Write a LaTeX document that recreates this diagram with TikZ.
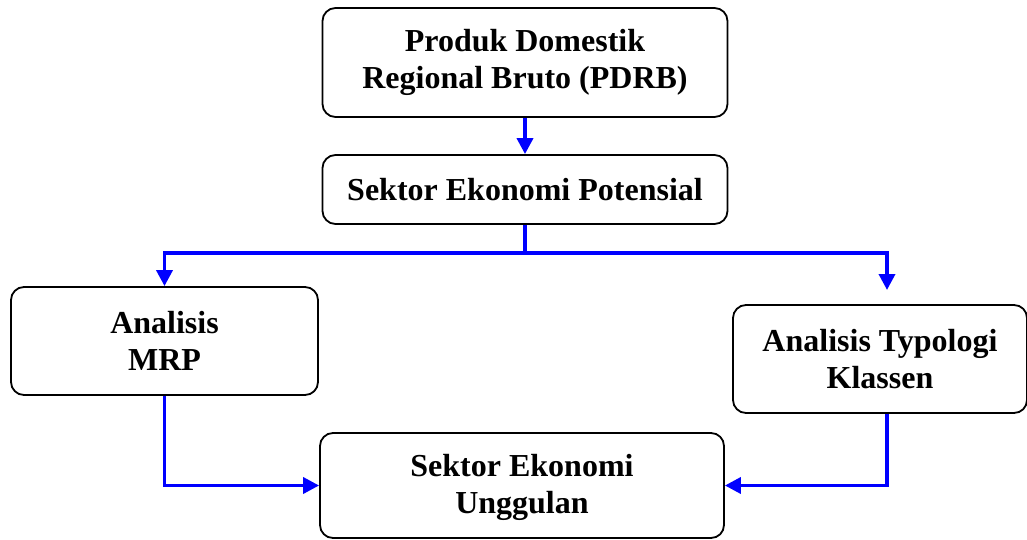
\documentclass[tikz,border=0pt]{standalone}
\usepackage{fontspec}
\setmainfont{Liberation Serif}
\usetikzlibrary{arrows.meta}
\begin{document}
\begin{tikzpicture}[x=1pt,y=-1pt,
  box/.style={draw=black, line width=1.8pt, rounded corners=13pt, align=center,
    font=\fontsize{32}{37}\selectfont\bfseries, inner sep=0pt},
  link/.style={draw={rgb,255:red,0;green,0;blue,255}, line width=3.6pt,
    -{Triangle[length=16pt,width=16pt]}},
  line/.style={draw={rgb,255:red,0;green,0;blue,255}, line width=3.6pt}]
\useasboundingbox (0,0) rectangle (1027,540);
\node[box, minimum width=405pt, minimum height=109pt] (pdrb) at (525,62.5)
  {Produk Domestik\\Regional Bruto (PDRB)};
\node[box, minimum width=405pt, minimum height=69pt] (sep) at (525,189.5)
  {Sektor Ekonomi Potensial};
\node[box, minimum width=307pt, minimum height=108pt] (mrp) at (164.5,341)
  {Analisis\\MRP};
\node[box, minimum width=294pt, minimum height=108pt] (tk) at (880,359)
  {Analisis Typologi\\Klassen};
\node[box, minimum width=404pt, minimum height=105pt, text depth=4pt] (seu) at (522,485.5)
  {Sektor Ekonomi\\Unggulan};
\path (sep.south) ++(0,28) coordinate (j);
\coordinate (rt) at (887,290);
\draw[link] (pdrb.south) -- (sep.north);
\draw[line] (sep.south) -- (j);
\draw[link] (j) -| (mrp.north);
\draw[link] (j) -| (rt);
\draw[link] (mrp.south) |- (seu.west);
\draw[link] ([xshift=7pt]tk.south) |- (seu.east);
\end{tikzpicture}
\end{document}
